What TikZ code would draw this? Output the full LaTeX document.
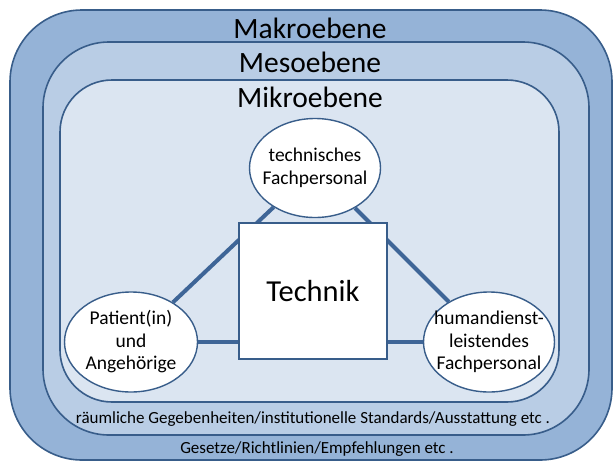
\documentclass[tikz,border=0pt]{standalone}
\usepackage{fontspec}
\setmainfont{Carlito}
\usetikzlibrary{positioning, shapes.geometric}
\definecolor{FrameBlue}{HTML}{385D8A}
\definecolor{MakroFill}{HTML}{95B3D7}
\definecolor{MesoFill}{HTML}{B9CDE5}
\definecolor{MikroFill}{HTML}{DBE5F1}
\definecolor{LinkBlue}{HTML}{3E6597}

\begin{document}
\begin{tikzpicture}[
  x=1pt, y=-1pt,
  level/.style={draw=FrameBlue, line width=1.6pt},
  title/.style={font=\fontsize{29.5}{31}\selectfont, inner sep=0pt},
  note/.style={font=\fontsize{17}{19}\selectfont, inner sep=0pt},
  actor/.style={ellipse, draw=FrameBlue, line width=1.4pt, fill=white,
    align=center, inner xsep=-14pt, inner ysep=0pt, font=\fontsize{19.5}{22.5}\selectfont},
  techbox/.style={rectangle, draw=FrameBlue, line width=1.4pt, fill=white,
    minimum width=148pt, minimum height=136pt, font=\fontsize{30.5}{32}\selectfont},
  link/.style={draw=LinkBlue, line width=4pt}
]
  \useasboundingbox (0,0) rectangle (613,461);

  % three nested levels
  \draw[level, fill=MakroFill, rounded corners=72pt] (10,10) rectangle (612,460);
  \draw[level, fill=MesoFill, rounded corners=66pt] (43,42) rectangle (589,435);
  \draw[level, fill=MikroFill, rounded corners=52pt] (60,80) rectangle (559,402);

  \node[title] (makro) at (310,28) {Makroebene};
  \node[title] (meso)  at (310,62) {Mesoebene};
  \node[title] (mikro) at (310,97) {Mikroebene};

  \node[note] (raum)  at (313,419) {räumliche Gegebenheiten/institutionelle Standards/Ausstattung etc .};
  \node[note] (recht) at (317,449) {Gesetze/Richtlinien/Empfehlungen etc .};

  % actors
  \node[actor, minimum width=131pt, minimum height=99pt] (techpers) at (315,168)
    {technisches\\Fachpersonal};
  \node[actor, minimum width=133pt, minimum height=100pt] (patient) at (131,342)
    {Patient(in)\\und\\Angehörige};
  \node[actor, minimum width=131pt, minimum height=100pt] (human) at (489,342)
    {humandienst-\\leistendes\\Fachpersonal};

  \draw[link] (techpers) -- (patient);
  \draw[link] (techpers) -- (human);
  \draw[link] (patient) -- (human);

  \node[techbox] (technik) at (313,291) {Technik};
\end{tikzpicture}
\end{document}
